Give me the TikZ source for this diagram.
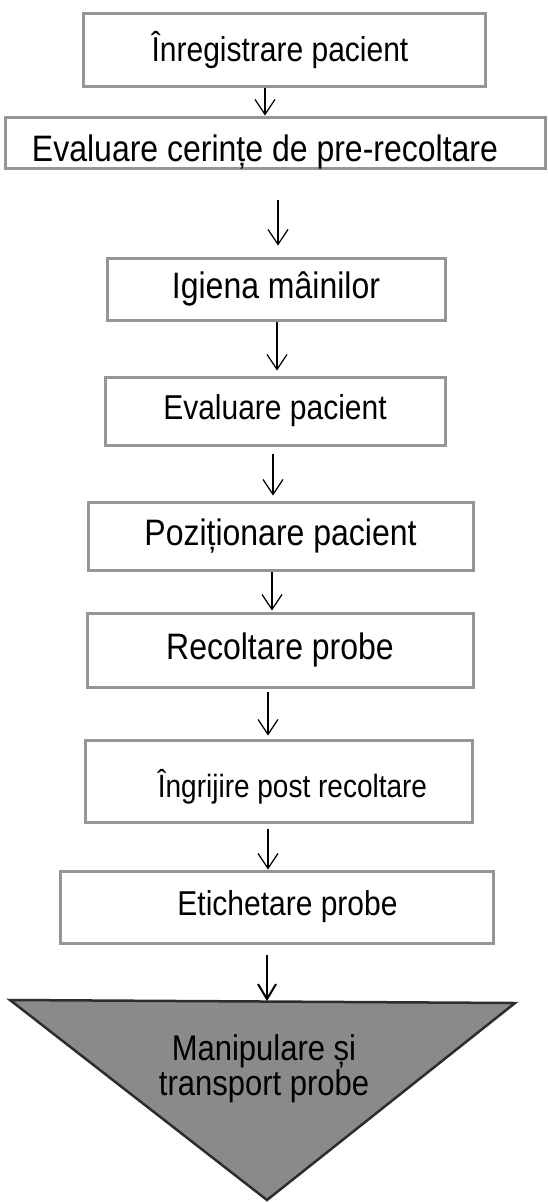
\documentclass[tikz,border=0pt]{standalone}
\usepackage{fontspec}
\setmainfont{Liberation Sans}
\usetikzlibrary{arrows.meta}
\definecolor{boxgray}{RGB}{150,150,150}
\definecolor{trifill}{RGB}{138,138,138}
\definecolor{triedge}{RGB}{45,45,45}
\tikzset{
  stepbox/.style={draw=boxgray, line width=3pt, fill=white, inner sep=0pt},
  arr/.style={draw=black, line width=1.2pt, -{Straight Barb[length=15pt,width=20pt,line width=1.2pt]}},
  arrthick/.style={draw=black, line width=2.6pt, -{Straight Barb[length=15pt,width=18pt,line width=2pt]}},
  boxtext/.style={font=\fontsize{#1}{28}\selectfont, text=black, yscale=1.15, transform shape, inner sep=0pt},
  boxtext/.default=30
}
\begin{document}
\begin{tikzpicture}[x=1pt,y=-1pt]
\useasboundingbox (0,0) rectangle (547,1203);
% boxes
\node[stepbox, minimum width=402pt, minimum height=73pt, label={[boxtext=30,xshift=-4pt]center:Înregistrare pacient}] (b1) at (284,49.5) {};
\node[stepbox, minimum width=540pt, minimum height=51pt, label={[boxtext=32,xshift=-10pt,yshift=-8pt]center:Evaluare cerințe de pre-recoltare}] (b2) at (275,142.5) {};
\node[stepbox, minimum width=338pt, minimum height=62pt, label={[boxtext=32]center:Igiena mâinilor}] (b3) at (276,289) {};
\node[stepbox, minimum width=340pt, minimum height=68pt, label={[boxtext=30]center:Evaluare pacient}] (b4) at (275,411) {};
\node[stepbox, minimum width=385pt, minimum height=68pt, label={[boxtext=32]center:Poziționare pacient}] (b5) at (280.5,536) {};
\node[stepbox, minimum width=386pt, minimum height=74pt, label={[boxtext=32]center:Recoltare probe}] (b6) at (280,650) {};
\node[stepbox, minimum width=387pt, minimum height=82pt, label={[boxtext=28,xshift=14pt,yshift=-5pt]center:Îngrijire post recoltare}] (b7) at (278.5,781) {};
\node[stepbox, minimum width=433pt, minimum height=72pt, label={[boxtext=30,xshift=11pt]center:Etichetare probe}] (b8) at (276.5,907) {};
% triangle
\coordinate (tl) at (10,1000);
\coordinate (tr) at (515,1003);
\coordinate (tb) at (267,1200);
\path[fill=trifill, draw=triedge, line width=2.5pt, line join=miter] (tl) -- (tr) -- (tb) -- cycle;
\node[boxtext=31, align=center] (t) at (264,1069) {Manipulare și\\transport probe};
\coordinate (ttop) at (267,1001);
% arrows
\draw[arr] (b1.south -| 265,0) -- (b2.north -| 265,0);
\coordinate (s2) at (278,200);
\draw[arr, shorten >=11pt] (s2) -- (b3.north -| s2);
\coordinate (s3) at (277,0);
\draw[arr, shorten >=5pt] (b3.south -| s3) -- (b4.north -| s3);
\coordinate (s4) at (273,0);
\draw[arr, shorten <=7pt, shorten >=5pt] (b4.south -| s4) -- (b5.north -| s4);
\coordinate (s5) at (272,0);
\draw[arr, shorten >=1pt] (b5.south -| s5) -- (b6.north -| s5);
\coordinate (s6) at (268,0);
\draw[arr, shorten <=3pt, shorten >=3pt] (b6.south -| s6) -- (b7.north -| s6);
\coordinate (s7) at (268,0);
\draw[arr, shorten <=5pt] (b7.south -| s7) -- (b8.north -| s7);
\coordinate (s8) at (267,0);
\draw[arrthick, shorten <=10pt] (b8.south -| s8) -- (ttop);
\end{tikzpicture}
\end{document}
